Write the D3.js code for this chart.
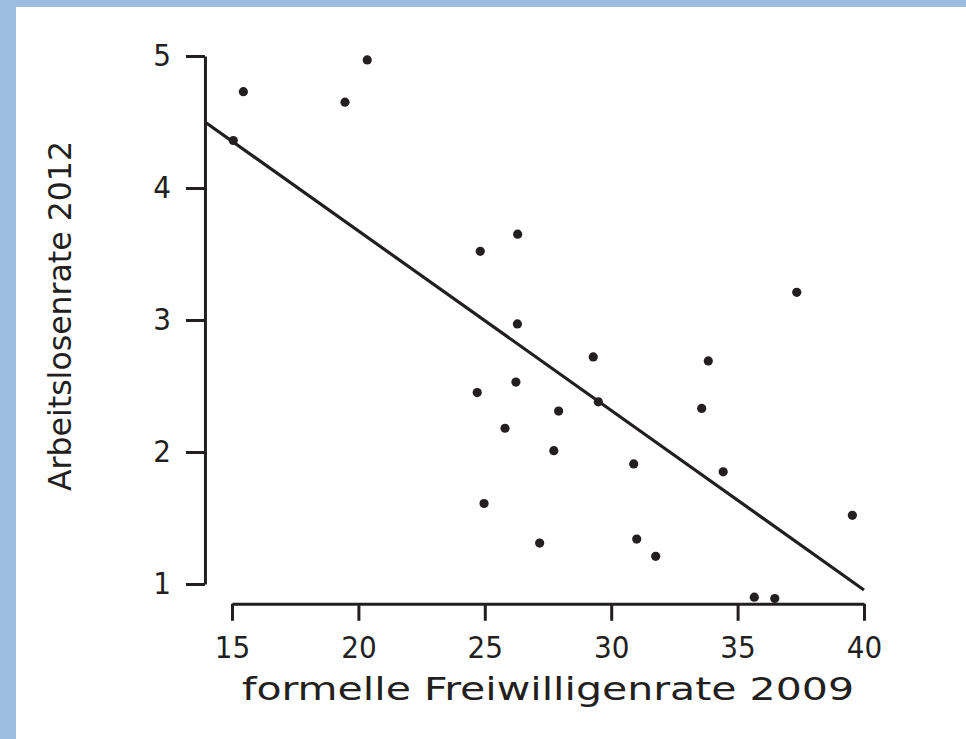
<!DOCTYPE html>
<html>
<head>
<meta charset="utf-8">
<script src="https://cdn.jsdelivr.net/npm/d3@7"></script>
<style>
    html, body { margin: 0; padding: 0; background: #9dbde0; }
    #frame { position: absolute; left: 16px; top: 7px; width: 950px; height: 732px; background: #fff; }
    svg { position: absolute; left: 0; top: 0; }
    text { fill: #231f20; font-family: "DejaVu Sans", sans-serif; font-stretch: condensed; }
</style>
</head>
<body>
<div id="frame"></div>
<svg id="chart"></svg>
<script>
// Freiwilligenrate 2009 (x) vs. Arbeitslosenrate 2012 (y)
const volunteerRate = [20.35, 15.45, 19.47, 15.05, 26.30, 24.82, 37.34, 26.29, 29.29, 33.84, 26.23, 24.70, 29.49,
                       27.92, 33.58, 25.80, 27.73, 30.89, 34.43, 24.97, 39.54, 27.17, 31.01, 31.76, 35.66, 36.47];
const unemploymentRate = [4.97, 4.73, 4.65, 4.36, 3.65, 3.52, 3.21, 2.97, 2.72, 2.69, 2.53, 2.45, 2.38,
                          2.31, 2.33, 2.18, 2.01, 1.91, 1.85, 1.61, 1.52, 1.31, 1.34, 1.21, 0.90, 0.89];
const xTicks = [15, 20, 25, 30, 35, 40];
const yTicks = [1, 2, 3, 4, 5];
const fitIntercept = 6.395;
const fitSlope = -0.136;
const fitRange = [13.93, 40];
const xTitle = 'formelle Freiwilligenrate 2009';
const yTitle = 'Arbeitslosenrate 2012';

const width = 966, height = 739;
const ink = '#231f20';

const svg = d3.select('#chart')
    .attr('width', width)
    .attr('height', height);

const xscale = d3.scaleLinear().domain([15, 40]).range([232, 864]);
const yscale = d3.scaleLinear().domain([1, 5]).range([584, 56]);

const yAxisX = xscale(fitRange[0]);
const xAxisY = yscale(0.85);

const xaxis = d3.axisBottom(xscale)
    .tickValues(xTicks)
    .tickFormat(d3.format('d'))
    .tickSize(17)
    .tickSizeOuter(0)
    .tickPadding(15);

const yaxis = d3.axisLeft(yscale)
    .tickValues(yTicks)
    .tickFormat(d3.format('d'))
    .tickSize(19)
    .tickSizeOuter(0)
    .tickPadding(15);

const xg = svg.append('g')
    .attr('transform', `translate(0, ${xAxisY})`)
    .call(xaxis);

const yg = svg.append('g')
    .attr('transform', `translate(${yAxisX}, 0)`)
    .call(yaxis);

[xg, yg].forEach(g => {
    g.selectAll('path, line').attr('stroke', ink).attr('stroke-width', 3);
    g.selectAll('text')
        .attr('fill', ink)
        .style('font-family', '"DejaVu Sans", sans-serif')
        .style('font-stretch', 'condensed')
        .style('font-size', '31px');
});

// regression line
const line = d3.line()
    .x(d => xscale(d))
    .y(d => yscale(fitIntercept + fitSlope * d));

svg.append('path')
    .attr('d', line(fitRange))
    .attr('stroke', ink)
    .attr('stroke-width', 3.2)
    .attr('fill', 'none');

// points
svg.append('g')
    .selectAll('circle')
    .data(volunteerRate.map((v, i) => ({ x: v, y: unemploymentRate[i] })))
    .join('circle')
    .attr('cx', d => xscale(d.x))
    .attr('cy', d => yscale(d.y))
    .attr('r', 4.6)
    .attr('fill', ink);

// axis titles
svg.append('text')
    .attr('x', 548)
    .attr('y', 700)
    .attr('text-anchor', 'middle')
    .attr('textLength', 612)
    .attr('lengthAdjust', 'spacingAndGlyphs')
    .style('font-size', '32px')
    .text(xTitle);

svg.append('text')
    .attr('transform', 'translate(71, 316) rotate(-90)')
    .attr('text-anchor', 'middle')
    .attr('textLength', 350)
    .attr('lengthAdjust', 'spacingAndGlyphs')
    .style('font-size', '32px')
    .text(yTitle);
</script>
</body>
</html>
